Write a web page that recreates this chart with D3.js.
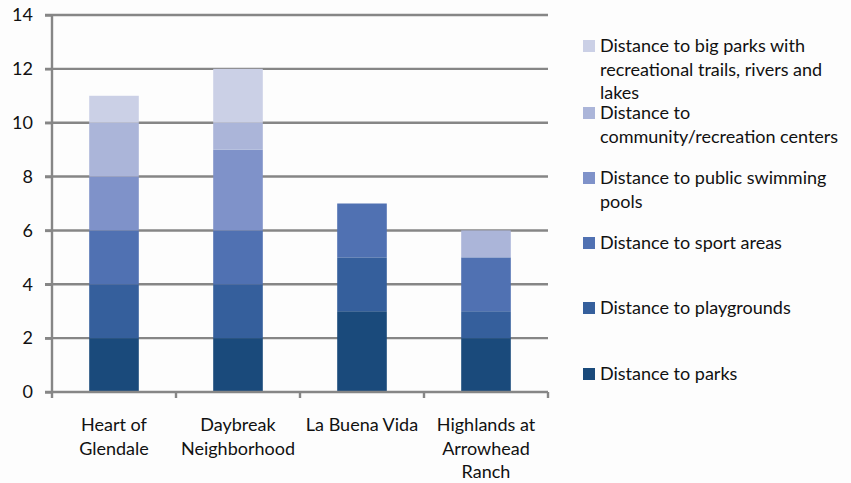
<!DOCTYPE html>
<html>
<head>
<meta charset="utf-8">
<script src="https://cdn.jsdelivr.net/npm/d3@7"></script>
<style>
  html, body { margin: 0; padding: 0; background: #fdfdfd; }
  svg { display: block; font-family: Lato, "Open Sans", sans-serif; }
</style>
</head>
<body>
<svg id="chart" width="851" height="483"></svg>
<script>
// Neighborhoods along the x axis (multi-line labels)
const categories = ["Heart of Glendale", "Daybreak Neighborhood", "La Buena Vida", "Highlands at Arrowhead Ranch"];
const categoryLines = [["Heart of", "Glendale"], ["Daybreak", "Neighborhood"], ["La Buena Vida"], ["Highlands at", "Arrowhead", "Ranch"]];

// Stacked series, bottom to top
const seriesNames = [
  "Distance to parks",
  "Distance to playgrounds",
  "Distance to sport areas",
  "Distance to public swimming pools",
  "Distance to community/recreation centers",
  "Distance to big parks with recreational trails, rivers and lakes"
];
const parks       = [2, 2, 3, 2];
const playgrounds = [2, 2, 2, 1];
const sportAreas  = [2, 2, 2, 2];
const pools       = [2, 3, 0, 0];
const community   = [2, 1, 0, 1];
const bigParks    = [1, 2, 0, 0];
const seriesValues = [parks, playgrounds, sportAreas, pools, community, bigParks];

const yTicks = [0, 2, 4, 6, 8, 10, 12, 14];

// Legend text, wrapped as shown, top to bottom
const legendLines = [
  ["Distance to big parks with", "recreational trails, rivers and", "lakes"],
  ["Distance to", "community/recreation centers"],
  ["Distance to public swimming", "pools"],
  ["Distance to sport areas"],
  ["Distance to playgrounds"],
  ["Distance to parks"]
];

const colors = ["#1a4a7b", "#355f9c", "#5071b2", "#7f92c9", "#abb5d9", "#cbd0e6"];

const svg = d3.select("#chart");
const plot = { left: 52, right: 548, top: 15, bottom: 392 };

const x = d3.scaleBand().domain(categories).range([plot.left, plot.right]).paddingInner(0.6).paddingOuter(0.3);
const y = d3.scaleLinear().domain([0, 14]).range([plot.bottom, plot.top]);

// Build stacked data
const rows = categories.map((c, i) => {
  const r = { cat: c };
  seriesNames.forEach((s, j) => r[s] = seriesValues[j][i]);
  return r;
});
const stacked = d3.stack().keys(seriesNames)(rows);

const gridColor = "#868686";
const fontSize = 18;

// Horizontal gridlines
svg.append("g").selectAll("line").data(yTicks.filter(t => t > 0)).join("line")
  .attr("x1", plot.left - 7).attr("x2", plot.right)
  .attr("y1", d => y(d)).attr("y2", d => y(d))
  .attr("stroke", gridColor).attr("stroke-width", 2.4);

// Bars
svg.append("g").selectAll("g").data(stacked).join("g")
  .attr("fill", (d, i) => colors[i])
  .selectAll("rect").data(d => d.filter(p => p[1] - p[0] > 0)).join("rect")
  .attr("x", d => x(d.data.cat))
  .attr("width", x.bandwidth())
  .attr("y", d => y(d[1]))
  .attr("height", d => y(d[0]) - y(d[1]));

// Y axis
const yAxis = svg.append("g").attr("transform", `translate(${plot.left},0)`)
  .call(d3.axisLeft(y).tickValues(yTicks).tickSize(7).tickPadding(12));
yAxis.select(".domain").attr("stroke", gridColor).attr("stroke-width", 2.4)
  .attr("d", `M0,${plot.top - 1}V${plot.bottom + 1}`);
yAxis.selectAll(".tick line").attr("stroke", gridColor).attr("stroke-width", 2.4);
yAxis.selectAll(".tick text").attr("font-size", fontSize).attr("fill", "#111")
  .attr("font-family", "Lato, sans-serif");

// X axis baseline and category dividers
const xAxisG = svg.append("g");
xAxisG.append("line")
  .attr("x1", plot.left - 7).attr("x2", plot.right)
  .attr("y1", y(0)).attr("y2", y(0))
  .attr("stroke", gridColor).attr("stroke-width", 2.4);
const dividers = d3.range(categories.length + 1).map(i => plot.left + i * (plot.right - plot.left) / categories.length);
xAxisG.selectAll("line.div").data(dividers).join("line").attr("class", "div")
  .attr("x1", d => d).attr("x2", d => d)
  .attr("y1", y(0)).attr("y2", y(0) + 6)
  .attr("stroke", gridColor).attr("stroke-width", 2.4);

// Category labels
const labels = svg.append("g").selectAll("text").data(categories).join("text")
  .attr("text-anchor", "middle")
  .attr("font-size", fontSize).attr("fill", "#111");
labels.each(function(c, i) {
  const t = d3.select(this);
  categoryLines[i].forEach((line, k) => {
    t.append("tspan").attr("x", x(c) + x.bandwidth() / 2).attr("y", 431 + k * 23.5).text(line);
  });
});

// Legend
const legendSwatchY = [40, 107, 172, 237, 302, 368];
const legend = svg.append("g");
legendLines.forEach((lines, i) => {
  const gy = legendSwatchY[i];
  legend.append("rect").attr("x", 583).attr("y", gy).attr("width", 12).attr("height", 12)
    .attr("fill", colors[colors.length - 1 - i]);
  const t = legend.append("text").attr("font-size", fontSize).attr("fill", "#111");
  lines.forEach((line, k) => {
    t.append("tspan").attr("x", 600).attr("y", gy + 12 + k * 23.5).text(line);
  });
});
</script>
</body>
</html>
